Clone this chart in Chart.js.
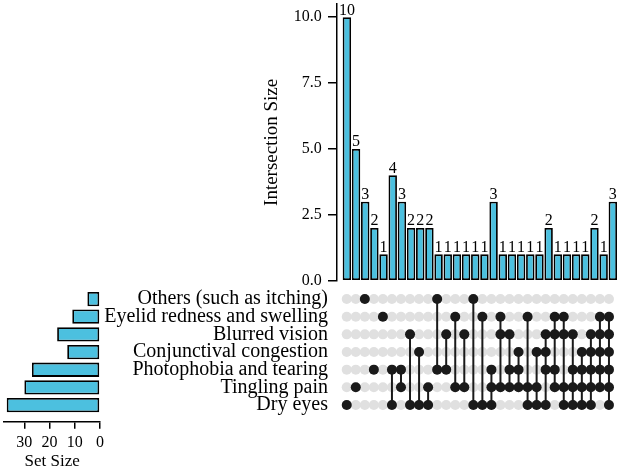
<!DOCTYPE html>
<html>
<head>
<meta charset="utf-8">
<script src="https://cdn.jsdelivr.net/npm/chart.js@4.4.0/dist/chart.umd.min.js"></script>
<style>
    html, body { margin: 0; padding: 0; background: #fff; }
    #wrap { position: relative; width: 624px; height: 472px; }
    #wrap canvas { position: absolute; left: 0; top: 0; }
</style>
</head>
<body>
<div id="wrap">
    <canvas id="setChart" width="624" height="472"></canvas>
    <canvas id="matrixChart" width="624" height="472"></canvas>
    <canvas id="interChart" width="624" height="472"></canvas>
</div>
<script>
// sets, top row to bottom row
const setNames = [
    'Others (such as itching)',
    'Eyelid redness and swelling',
    'Blurred vision',
    'Conjunctival congestion',
    'Photophobia and tearing',
    'Tingling pain',
    'Dry eyes'
];
const setSizes = [5, 11, 17, 13, 27, 30, 37];
const setSizeTicks = [0, 10, 20, 30];

// intersections, left to right (row indexes of the member sets)
const intersectionSizes = [10, 5, 3, 2, 1, 4, 3, 2, 2, 2, 1, 1, 1, 1, 1, 1, 3, 1, 1, 1, 1, 1, 2, 1, 1, 1, 1, 2, 1, 3];
const intersectionSets = [
    [6], [5], [0], [4], [1],
    [4, 6], [4, 5], [2, 6], [3, 6], [5, 6], [0, 4], [2, 4], [1, 5], [2, 5], [0, 6], [1, 6],
    [4, 5, 6], [1, 2, 5], [2, 4, 5], [3, 4, 5], [1, 5, 6], [3, 5, 6],
    [2, 3, 4, 6], [1, 2, 4, 5], [1, 2, 5, 6], [2, 4, 5, 6], [3, 4, 5, 6],
    [2, 3, 4, 5, 6], [1, 2, 3, 4, 5],
    [1, 2, 3, 4, 5, 6]
];
const intersectionTicks = [0, 2.5, 5, 7.5, 10];

const FONT = "'Liberation Serif', 'Times New Roman', serif";
const BAR_BLUE = '#4CC0DF';
const DOT_BLACK = '#1a1a1a';
const DOT_GREY = '#e0e0e0';

const xMin = -1.11;
const xMax = intersectionSizes.length - 1 + 1.11;

// keep chart areas exactly where the layout padding puts them
const noEdgePadding = (scale) => {
    scale.paddingTop = 0;
    scale.paddingBottom = 0;
    scale.paddingLeft = 0;
    scale.paddingRight = 0;
};

// value labels on top of the intersection bars
const barLabels = {
    id: 'barLabels',
    afterDatasetsDraw(chart) {
        const ctx = chart.ctx;
        const meta = chart.getDatasetMeta(0);
        ctx.save();
        ctx.font = '16px ' + FONT;
        ctx.fillStyle = '#000';
        ctx.textAlign = 'center';
        ctx.textBaseline = 'alphabetic';
        meta.data.forEach((bar, i) => {
            ctx.fillText(String(intersectionSizes[i]), bar.x, bar.y - 2.5);
        });
        ctx.restore();
    }
};

/*************************************************
 * Intersection size bars                        *
 *************************************************/
new Chart(document.getElementById('interChart'), {
    type: 'bar',
    data: {
        datasets: [{
            data: intersectionSizes.map((v, i) => ({ x: i, y: v })),
            backgroundColor: BAR_BLUE,
            borderColor: '#000',
            borderWidth: 1.8,
            borderSkipped: false,
            barPercentage: 0.92,
            categoryPercentage: 1
        }]
    },
    options: {
        responsive: false,
        animation: false,
        layout: { padding: { left: 261, right: 1, top: 4, bottom: 191.3 } },
        plugins: { legend: { display: false }, tooltip: { enabled: false } },
        scales: {
            x: {
                type: 'linear', min: xMin, max: xMax, offset: false, display: false,
                grid: { offset: false }, afterFit: noEdgePadding
            },
            y: {
                min: 0,
                max: 10.5,
                afterBuildTicks: (scale) => { scale.ticks = intersectionTicks.map(v => ({ value: v })); },
                afterFit: (scale) => { noEdgePadding(scale); scale.width = 75.7; },
                border: { display: true, color: '#000', width: 1.5 },
                grid: { drawOnChartArea: false, drawTicks: true, tickLength: 8.7, color: '#000', lineWidth: 1.5 },
                ticks: {
                    color: '#000',
                    padding: 6.3,
                    autoSkip: false,
                    font: { family: FONT, size: 16 },
                    callback: (v) => Number(v).toFixed(1)
                },
                title: {
                    display: true,
                    text: 'Intersection Size',
                    color: '#000',
                    padding: 0,
                    font: { family: FONT, size: 19 }
                }
            }
        }
    },
    plugins: [barLabels]
});

/*************************************************
 * Membership matrix                             *
 *************************************************/
const greyDots = [];
intersectionSizes.forEach((_, i) => {
    setNames.forEach((_, r) => greyDots.push({ x: i, y: r }));
});
const blackDots = [];
const links = [];
intersectionSets.forEach((rows, i) => {
    rows.forEach(r => blackDots.push({ x: i, y: r }));
    if (rows.length > 1) {
        links.push({ x: i, y: Math.min(...rows) });
        links.push({ x: i, y: Math.max(...rows) });
        links.push({ x: i, y: null });
    }
});

new Chart(document.getElementById('matrixChart'), {
    type: 'scatter',
    data: {
        datasets: [
            { data: blackDots, pointRadius: 5, pointBackgroundColor: DOT_BLACK, pointBorderWidth: 0, order: 0 },
            {
                type: 'line', data: links, borderColor: DOT_BLACK, borderWidth: 2,
                pointRadius: 0, spanGaps: false, fill: false, order: 1
            },
            { data: greyDots, pointRadius: 5, pointBackgroundColor: DOT_GREY, pointBorderWidth: 0, order: 2 }
        ]
    },
    options: {
        responsive: false,
        animation: false,
        layout: { padding: { left: 100, right: 1, top: 290.2, bottom: 58.2 } },
        plugins: { legend: { display: false }, tooltip: { enabled: false } },
        scales: {
            x: { type: 'linear', min: xMin, max: xMax, offset: false, display: false, afterFit: noEdgePadding },
            y: {
                type: 'linear',
                reverse: true,
                min: -0.5,
                max: 6.5,
                offset: false,
                afterBuildTicks: (scale) => { scale.ticks = setNames.map((_, i) => ({ value: i })); },
                afterFit: (scale) => { noEdgePadding(scale); scale.width = 236.7; },
                border: { display: false },
                grid: { display: false, drawTicks: false },
                ticks: {
                    color: '#000',
                    padding: 8.7,
                    autoSkip: false,
                    font: { family: FONT, size: 20 },
                    callback: (v) => setNames[v]
                }
            }
        }
    }
});

/*************************************************
 * Set size bars                                 *
 *************************************************/
new Chart(document.getElementById('setChart'), {
    type: 'bar',
    data: {
        datasets: [{
            data: setSizes.map((v, i) => ({ x: v, y: i })),
            backgroundColor: BAR_BLUE,
            borderColor: '#000',
            borderWidth: 1.8,
            borderSkipped: false,
            barPercentage: 0.86,
            categoryPercentage: 1
        }]
    },
    options: {
        indexAxis: 'y',
        responsive: false,
        animation: false,
        layout: { padding: { left: 4.2, right: 524, top: 290.2, bottom: 0 } },
        plugins: { legend: { display: false }, tooltip: { enabled: false } },
        scales: {
            y: {
                type: 'linear', reverse: true, min: -0.5, max: 6.94, offset: false, display: false,
                grid: { offset: false }, afterFit: noEdgePadding
            },
            x: {
                type: 'linear',
                reverse: true,
                min: 0,
                max: 38,
                position: 'bottom',
                afterBuildTicks: (scale) => { scale.ticks = setSizeTicks.map(v => ({ value: v })); },
                afterFit: (scale) => { noEdgePadding(scale); scale.height = 50.3; },
                border: { display: true, color: '#000', width: 1.5 },
                grid: { drawOnChartArea: false, drawTicks: true, tickLength: 7, color: '#000', lineWidth: 1.5 },
                ticks: {
                    color: '#000',
                    padding: 4.6,
                    maxRotation: 0,
                    autoSkip: false,
                    font: { family: FONT, size: 16 }
                },
                title: {
                    display: true,
                    text: 'Set Size',
                    color: '#000',
                    padding: 0,
                    font: { family: FONT, size: 17 }
                }
            }
        }
    }
});
</script>
</body>
</html>
